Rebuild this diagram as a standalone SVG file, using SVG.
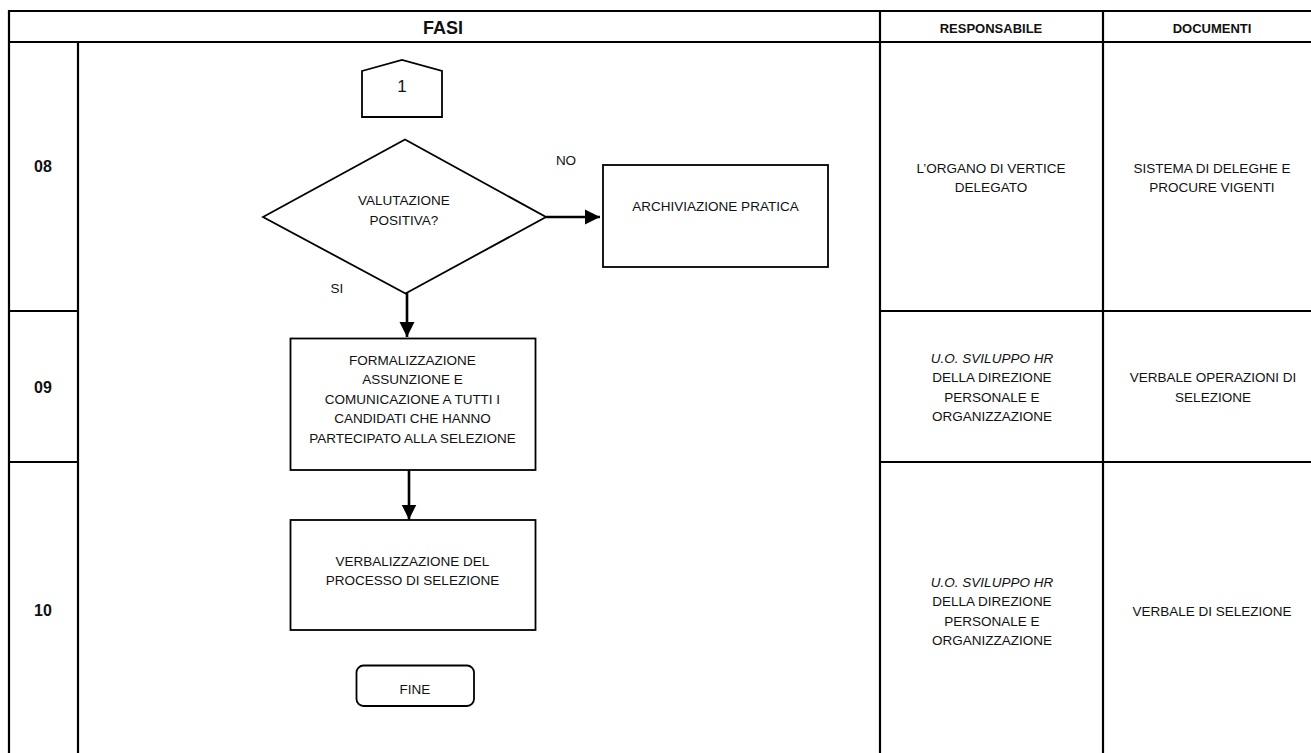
<svg xmlns="http://www.w3.org/2000/svg" width="1311" height="753" viewBox="0 0 1311 753">
<style>
  .grid { stroke: #000; stroke-width: 2.2; fill: none; }
  .shape { stroke: #000; stroke-width: 1.8; fill: #fff; }
  .conn { stroke: #000; stroke-width: 2.6; fill: none; }
  text { font-family: "Liberation Sans", Arial, sans-serif; fill: #111; text-anchor: middle; }
  .t { font-size: 13.5px; }
  .hdr { font-size: 13px; font-weight: bold; }
  .num { font-size: 16px; font-weight: bold; }
  .it { font-style: italic; }
</style>
<defs>
  <marker id="arr" markerUnits="userSpaceOnUse" markerWidth="16" markerHeight="16" refX="15" refY="8" orient="auto">
    <path d="M0,0.5 L15,8 L0,15.5 Z" fill="#000"/>
  </marker>
</defs>
<rect x="0" y="0" width="1311" height="753" fill="#fff"/>
<g id="table">
  <line class="grid" x1="9" y1="11" x2="1311" y2="11"/>
  <line class="grid" x1="9" y1="42" x2="1311" y2="42"/>
  <line class="grid" x1="9" y1="10" x2="9" y2="753"/>
  <line class="grid" x1="78" y1="42" x2="78" y2="753"/>
  <line class="grid" x1="880" y1="11" x2="880" y2="753"/>
  <line class="grid" x1="1103" y1="11" x2="1103" y2="753"/>
  <line class="grid" x1="9" y1="311" x2="78" y2="311"/>
  <line class="grid" x1="880" y1="311" x2="1311" y2="311"/>
  <line class="grid" x1="9" y1="462" x2="78" y2="462"/>
  <line class="grid" x1="880" y1="462" x2="1311" y2="462"/>
  <text x="443" y="34" style="font-size:18px;font-weight:bold">FASI</text>
  <text class="hdr" x="991" y="33">RESPONSABILE</text>
  <text class="hdr" x="1212" y="33">DOCUMENTI</text>
  <text class="num" x="43" y="172">08</text>
  <text class="num" x="43" y="393">09</text>
  <text class="num" x="43" y="616">10</text>
</g>
<g id="resp08">
  <text class="t" x="991" y="173">L’ORGANO DI VERTICE</text>
  <text class="t" x="991" y="192">DELEGATO</text>
</g>
<g id="doc08">
  <text class="t" x="1212" y="173">SISTEMA DI DELEGHE E</text>
  <text class="t" x="1212" y="192">PROCURE VIGENTI</text>
</g>
<g id="resp09">
  <text class="t it" x="992" y="363">U.O. SVILUPPO HR</text>
  <text class="t" x="992" y="382">DELLA DIREZIONE</text>
  <text class="t" x="992" y="402">PERSONALE E</text>
  <text class="t" x="992" y="421">ORGANIZZAZIONE</text>
</g>
<g id="doc09">
  <text class="t" x="1213" y="382">VERBALE OPERAZIONI DI</text>
  <text class="t" x="1213" y="402">SELEZIONE</text>
</g>
<g id="resp10">
  <text class="t it" x="992" y="587">U.O. SVILUPPO HR</text>
  <text class="t" x="992" y="606">DELLA DIREZIONE</text>
  <text class="t" x="992" y="626">PERSONALE E</text>
  <text class="t" x="992" y="645">ORGANIZZAZIONE</text>
</g>
<g id="doc10">
  <text class="t" x="1212" y="616">VERBALE DI SELEZIONE</text>
</g>
<g id="connectors">
  <line class="conn" x1="546" y1="217" x2="600" y2="217" marker-end="url(#arr)"/>
  <line class="conn" x1="407" y1="293" x2="407" y2="337" marker-end="url(#arr)"/>
  <line class="conn" x1="409" y1="470" x2="409" y2="519.5" marker-end="url(#arr)"/>
  <text class="t" x="566" y="165">NO</text>
  <text class="t" x="337" y="293">SI</text>
</g>
<g id="n-connector1">
  <path class="shape" d="M362,71 L402,60 L442,71 L442,117 L362,117 Z"/>
  <text x="402" y="91.5" style="font-size:17px">1</text>
</g>
<g id="n-decision">
  <path class="shape" d="M263,217 L405,139.5 L546,217 L405.5,293.5 Z"/>
  <text class="t" x="404" y="204.5">VALUTAZIONE</text>
  <text class="t" x="404" y="224.5">POSITIVA?</text>
</g>
<g id="n-archiviazione">
  <rect class="shape" x="603" y="165" width="225" height="102"/>
  <text class="t" x="715.5" y="211">ARCHIVIAZIONE PRATICA</text>
</g>
<g id="n-formalizzazione">
  <rect class="shape" x="290.5" y="338.5" width="245" height="131.5"/>
  <text class="t" x="412.5" y="365">FORMALIZZAZIONE</text>
  <text class="t" x="412.5" y="384.3">ASSUNZIONE E</text>
  <text class="t" x="412.5" y="404">COMUNICAZIONE A TUTTI I</text>
  <text class="t" x="412.5" y="423.3">CANDIDATI CHE HANNO</text>
  <text class="t" x="412.5" y="442.7">PARTECIPATO ALLA SELEZIONE</text>
</g>
<g id="n-verbalizzazione">
  <rect class="shape" x="290.5" y="520" width="245" height="110"/>
  <text class="t" x="412.5" y="566">VERBALIZZAZIONE DEL</text>
  <text class="t" x="412.5" y="585">PROCESSO DI SELEZIONE</text>
</g>
<g id="n-fine">
  <rect class="shape" x="356.5" y="665.5" width="117.5" height="40.5" rx="7" ry="7"/>
  <text class="t" x="415" y="694">FINE</text>
</g>
</svg>
